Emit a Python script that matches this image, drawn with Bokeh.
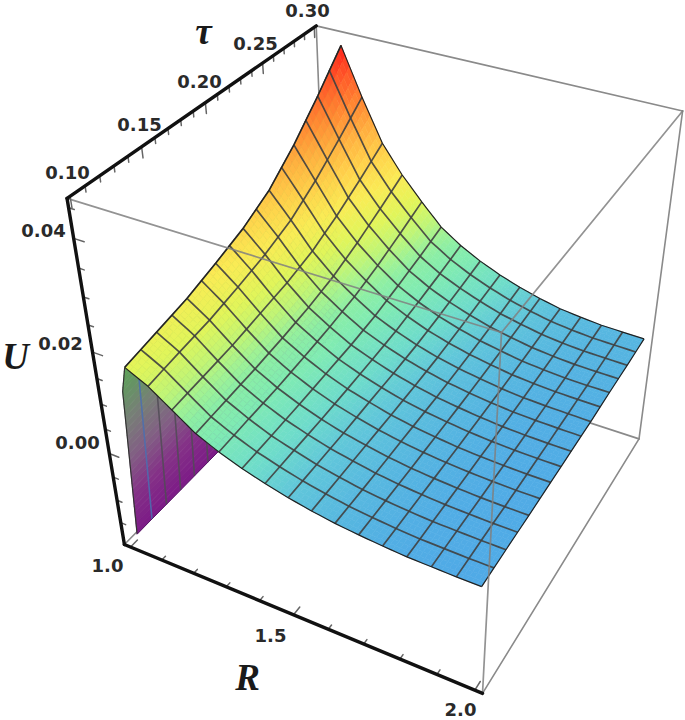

import numpy as np
from bokeh.plotting import figure
from bokeh.embed import file_html
from bokeh.resources import INLINE
from bokeh.core.properties import value

# ---- data ----
R_nodes = [1.02, 1.045, 1.0625, 1.125, 1.1875, 1.25, 1.3125, 1.375, 1.4375, 1.5,
           1.5625, 1.625, 1.6875, 1.75, 1.8125, 1.875, 1.9375, 2.0]
tau_nodes = [0.10, 0.125, 0.15, 0.175, 0.20, 0.225, 0.25, 0.275, 0.30]
U_table = [
 [-.0170,-.0170,-.0170,-.0170,-.0170,-.0170,-.0170,-.0170,-.0170],
 [.0136,.0149,.0162,.0181,.0202,.0232,.0278,.0333,.0393],
 [.0186,.0199,.0212,.0231,.0252,.0282,.0328,.0383,.0443],
 [.0165,.0175,.0184,.0198,.0214,.0236,.0270,.0311,.0355],
 [.0135,.0142,.0149,.0160,.0171,.0187,.0212,.0242,.0275],
 [.0105,.0111,.0117,.0125,.0135,.0149,.0170,.0195,.0222],
 [.0085,.0090,.0094,.0101,.0109,.0120,.0136,.0156,.0178],
 [.0069,.0072,.0076,.0081,.0086,.0094,.0107,.0121,.0137],
 [.0056,.0059,.0061,.0065,.0070,.0076,.0086,.0097,.0110],
 [.0045,.0047,.0049,.0053,.0056,.0061,.0069,.0079,.0089],
 [.0036,.0038,.0040,.0042,.0045,.0049,.0056,.0064,.0072],
 [.0029,.0030,.0032,.0034,.0036,.0040,.0045,.0051,.0058],
 [.0024,.0025,.0026,.0028,.0030,.0033,.0037,.0042,.0047],
 [.0020,.0021,.0022,.0023,.0025,.0027,.0030,.0034,.0038],
 [.0017,.0018,.0019,.0020,.0021,.0023,.0026,.0029,.0033],
 [.0016,.0017,.0017,.0018,.0019,.0021,.0023,.0026,.0029],
 [.0015,.0016,.0016,.0017,.0018,.0020,.0022,.0025,.0028],
 [.0015,.0016,.0016,.0017,.0018,.0019,.0022,.0024,.0027],
]
R_ticks = [1.0,1.1,1.2,1.3,1.4,1.5,1.6,1.7,1.8,1.9,2.0]
R_major = [1.0,1.5,2.0]
tau_ticks = [.10,.11,.12,.13,.14,.15,.16,.17,.18,.19,.20,.21,.22,.23,.24,.25,.26,.27,.28,.29,.30]
tau_major = [.10,.15,.20,.25,.30]
U_ticks = [-.015,-.01,-.005,0,.005,.01,.015,.02,.025,.03,.035,.04,.045]
U_major = [0,.02,.04]
tick_labels = ["0.10","0.15","0.20","0.25","0.30","0.04","0.02","0.00","1.0","1.5","2.0"]
label_x = [67,139,199,255,307,43,60,77,107,270,460]
label_y = [172,124,81,43,10,230,343,442,565,635,709]
R_mesh = [1.0625,1.125,1.1875,1.25,1.3125,1.375,1.4375,1.5,1.5625,1.625,1.6875,1.75,1.8125,1.875,1.9375]
tau_mesh = [.1125,.125,.1375,.15,.1625,.175,.1875,.2,.2125,.225,.2375,.25,.2625,.275,.2875]

# ---- projection of the perspective box ----
R0,R1=0.98,2.02; T0,T1=0.098,0.302; U0,U1=-0.02,0.0465
corners={(0,0,1):(68,198),(0,1,1):(314,25),(0,0,0):(122,543),(1,0,0):(482,693),
         (1,0,1):(502,333),(1,1,1):(682,110),(1,1,0):(638,438),(0,1,0):(330,338)}
A=[];b=[]
for (x,y,z),(u,v) in corners.items():
    A.append([x,y,z,1,0,0,0,0,-u*x,-u*y,-u*z]);b.append(u)
    A.append([0,0,0,0,x,y,z,1,-v*x,-v*y,-v*z]);b.append(v)
M=np.append(np.linalg.lstsq(np.array(A,float),np.array(b,float),rcond=None)[0],1).reshape(3,4)
def proj(r,t,u):
    r,t,u=np.broadcast_arrays(np.asarray(r,float),np.asarray(t,float),np.asarray(u,float))
    X=np.stack([(r-R0)/(R1-R0),(t-T0)/(T1-T0),(u-U0)/(U1-U0),np.ones_like(r)])
    h=np.tensordot(M,X,axes=1)
    return h[0]/h[2],h[1]/h[2]

W,H=685,720
p=figure(width=W,height=H,x_range=(0,W),y_range=(H,0),output_backend="svg",toolbar_location=None,
         min_border=0,outline_line_color=None,background_fill_color="white",border_fill_color="white")
p.axis.visible=False; p.grid.visible=False

def seg(a,c,color,width,alpha=1.0):
    x,y=proj(*zip(a,c))
    p.line(list(x),list(y),line_color=color,line_width=width,line_alpha=alpha,line_cap="round")

L,Rr=R0,R1; F,B=T0,T1; D,Up=U0,U1
grey="#8a8a8a"
for a,c in [((L,B,Up),(L,B,D)),((L,B,D),(Rr,B,D)),((L,B,D),(L,F,D)),((L,B,Up),(Rr,B,Up)),((Rr,B,Up),(Rr,B,D)),((Rr,B,D),(Rr,F,D))]:
    seg(a,c,grey,1.6)

# ---- surface evaluation ----
Rn=np.array(R_nodes); Tn=np.array(tau_nodes); Ut=np.array(U_table)
def U_at_rows(t):
    return np.array([np.interp(t,Tn,row) for row in Ut])
def surf(r,t):
    return np.interp(r,Rn,U_at_rows(t))

surf_stops=[(.0015,(80,170,230)),(.0025,(85,180,225)),(.0045,(96,198,218)),(.0065,(110,220,202)),(.0095,(128,235,178)),(.0115,(140,238,165)),
            (.013,(160,242,148)),(.0150,(192,245,118)),(.018,(225,245,90)),(.022,(250,235,85)),(.026,(255,210,75)),(.030,(255,180,65)),
            (.035,(255,135,50)),(.040,(255,85,40)),(.044,(255,35,25))]
wall_stops=[(-.02,(122,18,135)),(-.008,(132,50,135)),(.0,(130,95,132)),(.008,(118,128,118)),(.014,(100,150,98)),(.02,(92,165,85)),(.045,(120,130,60))]
def cmap(u,stops):
    xs=[s[0] for s in stops]
    rgb=[np.interp(u,xs,[s[1][i] for s in stops]) for i in range(3)]
    return "#%02x%02x%02x"%tuple(int(round(v)) for v in rgb)

def quads(rs,ts,stops):
    xs=[];ys=[];cs=[]
    for t0,t1 in zip(ts[:-1],ts[1:]):
        u0=np.interp(rs,Rn,U_at_rows(t0)); u1=np.interp(rs,Rn,U_at_rows(t1))
        x0,y0=proj(rs,t0,u0); x1,y1=proj(rs,t1,u1)
        for i in range(len(rs)-1):
            xs.append([x0[i],x0[i+1],x1[i+1],x1[i]])
            ys.append([y0[i],y0[i+1],y1[i+1],y1[i]])
            cs.append(cmap((u0[i]+u0[i+1]+u1[i]+u1[i+1])/4,stops))
    return xs,ys,cs

def fine(nodes,n):
    out=[]
    for a,c in zip(nodes[:-1],nodes[1:]):
        out+=list(np.linspace(a,c,n,endpoint=False))
    return np.array(out+[nodes[-1]])

tall=[.1]+tau_mesh+[.3]
# wall
rw=fine(R_nodes[:2],24); rw=np.append(rw,fine(R_nodes[1:3],6)[1:]); tw=fine(tall,1)
x,y,c=quads(rw,tw[::-1],wall_stops)
p.patches(x,y,fill_color=c,line_color=c,line_width=0.8)
for i,t in enumerate(tau_mesh):
    u=np.interp(rw,Rn,U_at_rows(t)); xx,yy=proj(rw,t,u)
    p.line(list(xx),list(yy),line_color="#4a6fb0" if i==0 else "#504b55",line_width=1.6,line_alpha=.85)
u=np.interp(rw,Rn,U_at_rows(.1)); xx,yy=proj(rw,.1,u)
p.line(list(xx),list(yy),line_color="#333333",line_width=1.2)
tb=np.array(tall); xx,yy=proj(R_nodes[0],tb,U_table[0][0]); p.line(list(xx),list(yy),line_color="#5a1a6a",line_width=1)

# surface
rs=fine(R_nodes[2:],5); ts=fine(tall,4)
x,y,c=quads(rs,ts[::-1],surf_stops)
p.patches(x,y,fill_color=c,line_color=c,line_width=0.6)
rl=fine(R_nodes[2:],3)
mesh="#404040"
for t in tau_mesh:
    u=np.interp(rl,Rn,U_at_rows(t)); xx,yy=proj(rl,t,u)
    p.line(list(xx),list(yy),line_color=mesh,line_width=1.7,line_alpha=.9)
tl=np.array(tall)
for r in R_mesh:
    u=np.array([surf(r,t) for t in tl]); xx,yy=proj(r,tl,u)
    p.line(list(xx),list(yy),line_color=mesh,line_width=1.7,line_alpha=.9)
for t in (.1,.3):
    u=np.interp(rl,Rn,U_at_rows(t)); xx,yy=proj(rl,t,u); p.line(list(xx),list(yy),line_color="#222222",line_width=1.2)
for r in (R_nodes[2],2.0):
    u=np.array([surf(r,t) for t in tl]); xx,yy=proj(r,tl,u); p.line(list(xx),list(yy),line_color="#222222",line_width=1.2)

for a,c in [((L,F,Up),(Rr,F,Up)),((Rr,F,Up),(Rr,F,D)),((Rr,F,Up),(Rr,B,Up))]:
    seg(a,c,"#808080",1.7,.85)

tc="#666666"
for r in R_ticks:
    l=.028 if r in R_major else .015
    seg((r,F,D),(r,F+l*(B-F),D),tc,1.5)
for t in tau_ticks:
    l=.028 if t in tau_major else .015
    seg((L,t,Up),(L,t,Up-l*(Up-D)),tc,1.5)
for u in U_ticks:
    l=.028 if u in U_major else .015
    seg((L,F,u),(L+l*(Rr-L),F,u),tc,1.5)
for a,c in [((L,F,Up),(L,B,Up)),((L,F,Up),(L,F,D)),((L,F,D),(Rr,F,D))]:
    seg(a,c,"#111111",3.4)

p.text(label_x,label_y,tick_labels,text_font=value("DejaVu Sans"),text_font_style="bold",text_font_size="18px",
       text_align="center",text_baseline="middle",text_color="#2a2a2a")
p.text([203,15,247],[31,356,677],["τ","U","R"],text_font=value("Liberation Serif"),text_font_style="bold italic",text_font_size="37px",
       text_align="center",text_baseline="middle",text_color="#1a1a1a")
open("out.html","w").write(file_html(p,INLINE))
